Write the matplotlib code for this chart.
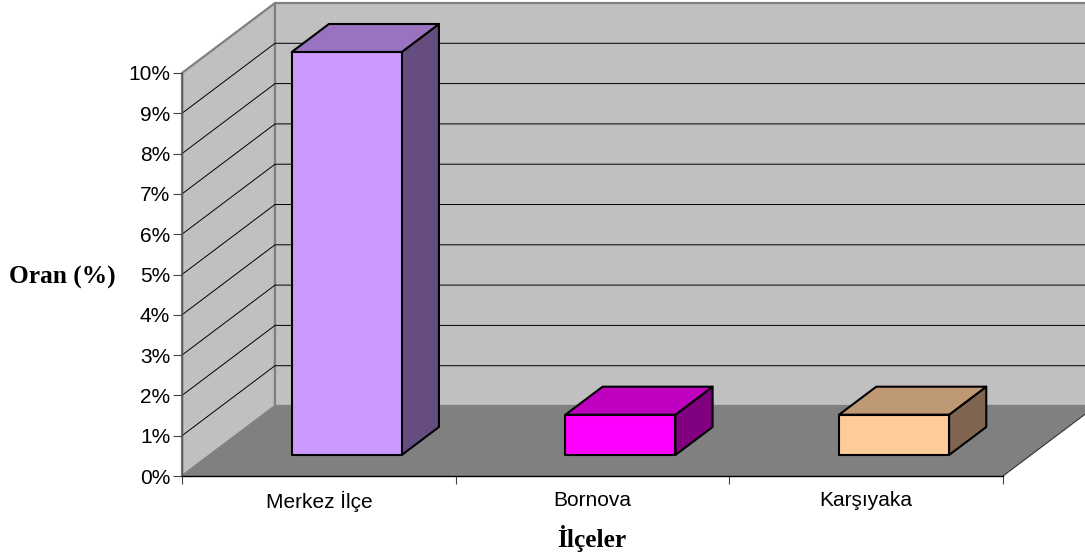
import matplotlib
matplotlib.use('Agg')
import matplotlib.pyplot as plt
from matplotlib.patches import Polygon

plt.rcParams['font.family'] = ['Liberation Sans', 'DejaVu Sans']

# data
categories = ['Merkez İlçe', 'Bornova', 'Karşıyaka']
values = [10, 1, 1]
front_colors = ['#CC99FF', '#FF00FF', '#FFCC99']
top_colors = ['#9973BF', '#BF00BF', '#BF9973']
side_colors = ['#664D80', '#800080', '#806650']
y_ticks = list(range(0, 11))

W, H = 1085, 559
# wall depth in data units (93 px right, 70 px up on the picture)
DX = 93 / 273.67
DY = 70 / 40.3
BAR_W = 110 / 273.67


def quad(ax, pts, color, ec='none', lw=0.0, z=1):
    ax.add_patch(Polygon(pts, closed=True, facecolor=color, edgecolor=ec, linewidth=lw,
                         joinstyle='round', clip_on=False, zorder=z))


fig = plt.figure(figsize=(W / 100, H / 100), dpi=100, facecolor='white')
ax = fig.add_axes([182 / W, (H - 476) / H, 821 / W, 403 / H])
ax.set_xlim(0, 3)
ax.set_ylim(0, 10)
ax.patch.set_visible(False)

# walls and floor
quad(ax, [(0, 0), (0, 10), (DX, 10 + DY), (DX, DY)], '#C0C0C0', '#808080', 1.6, 1)
quad(ax, [(DX, DY), (DX, 10 + DY), (3 + DX, 10 + DY), (3 + DX, DY)], '#C0C0C0', '#808080', 1.6, 1)
quad(ax, [(0, 0), (DX, DY), (3 + DX, DY), (3, 0)], '#808080', z=2)
ax.plot([3, 3 + DX], [0, DY], color='#333333', lw=0.8, clip_on=False, zorder=2)

# gridlines
for v in y_ticks[1:-1]:
    ax.plot([0, DX, 3 + DX], [v, v + DY, v + DY], color='black', lw=0.7, clip_on=False, zorder=1.5)

# bars
for i, val in enumerate(values):
    x0 = i + (1 - BAR_W) / 2 + DX * 0.3
    x1 = x0 + BAR_W
    y0 = DY * 0.3
    y1 = y0 + val
    ddx = DX * 0.4
    ddy = DY * 0.4
    quad(ax, [(x1, y0), (x1, y1), (x1 + ddx, y1 + ddy), (x1 + ddx, y0 + ddy)], side_colors[i], 'black', 1.5, 3)
    quad(ax, [(x0, y1), (x1, y1), (x1 + ddx, y1 + ddy), (x0 + ddx, y1 + ddy)], top_colors[i], 'black', 1.5, 3)
    quad(ax, [(x0, y0), (x1, y0), (x1, y1), (x0, y1)], front_colors[i], 'black', 1.5, 4)

# axes
for s in ['top', 'right']:
    ax.spines[s].set_visible(False)
ax.spines['left'].set_color('#555555')
ax.spines['left'].set_linewidth(1.0)
ax.spines['bottom'].set_color('black')
ax.spines['bottom'].set_linewidth(1.0)
ax.spines['left'].set_zorder(5)
ax.spines['bottom'].set_zorder(5)

ax.set_yticks(y_ticks)
ax.set_yticklabels(['%d%%' % v for v in y_ticks], fontsize=15)
ax.tick_params(axis='y', length=6.5, width=0.8, color='#444444', pad=2)
ax.set_xticks([0, 1, 2, 3])
ax.set_xticklabels([])
ax.tick_params(axis='x', which='major', length=6, width=0.8, color='#444444')
ax.set_xticks([0.5, 1.5, 2.5], minor=True)
ax.set_xticklabels(categories, minor=True, fontsize=15)
ax.tick_params(axis='x', which='minor', length=0, pad=11)

serif = ['Liberation Serif', 'DejaVu Serif']
fig.text(62.5 / W, 1 - 277 / H, 'Oran (%)', family=serif, fontweight='bold', fontsize=18.3,
         ha='center', va='center')
fig.text(592 / W, 1 - 539 / H, 'İlçeler', family=serif, fontweight='bold', fontsize=18.3,
         ha='center', va='center')

fig.savefig('out.png', dpi=100)
